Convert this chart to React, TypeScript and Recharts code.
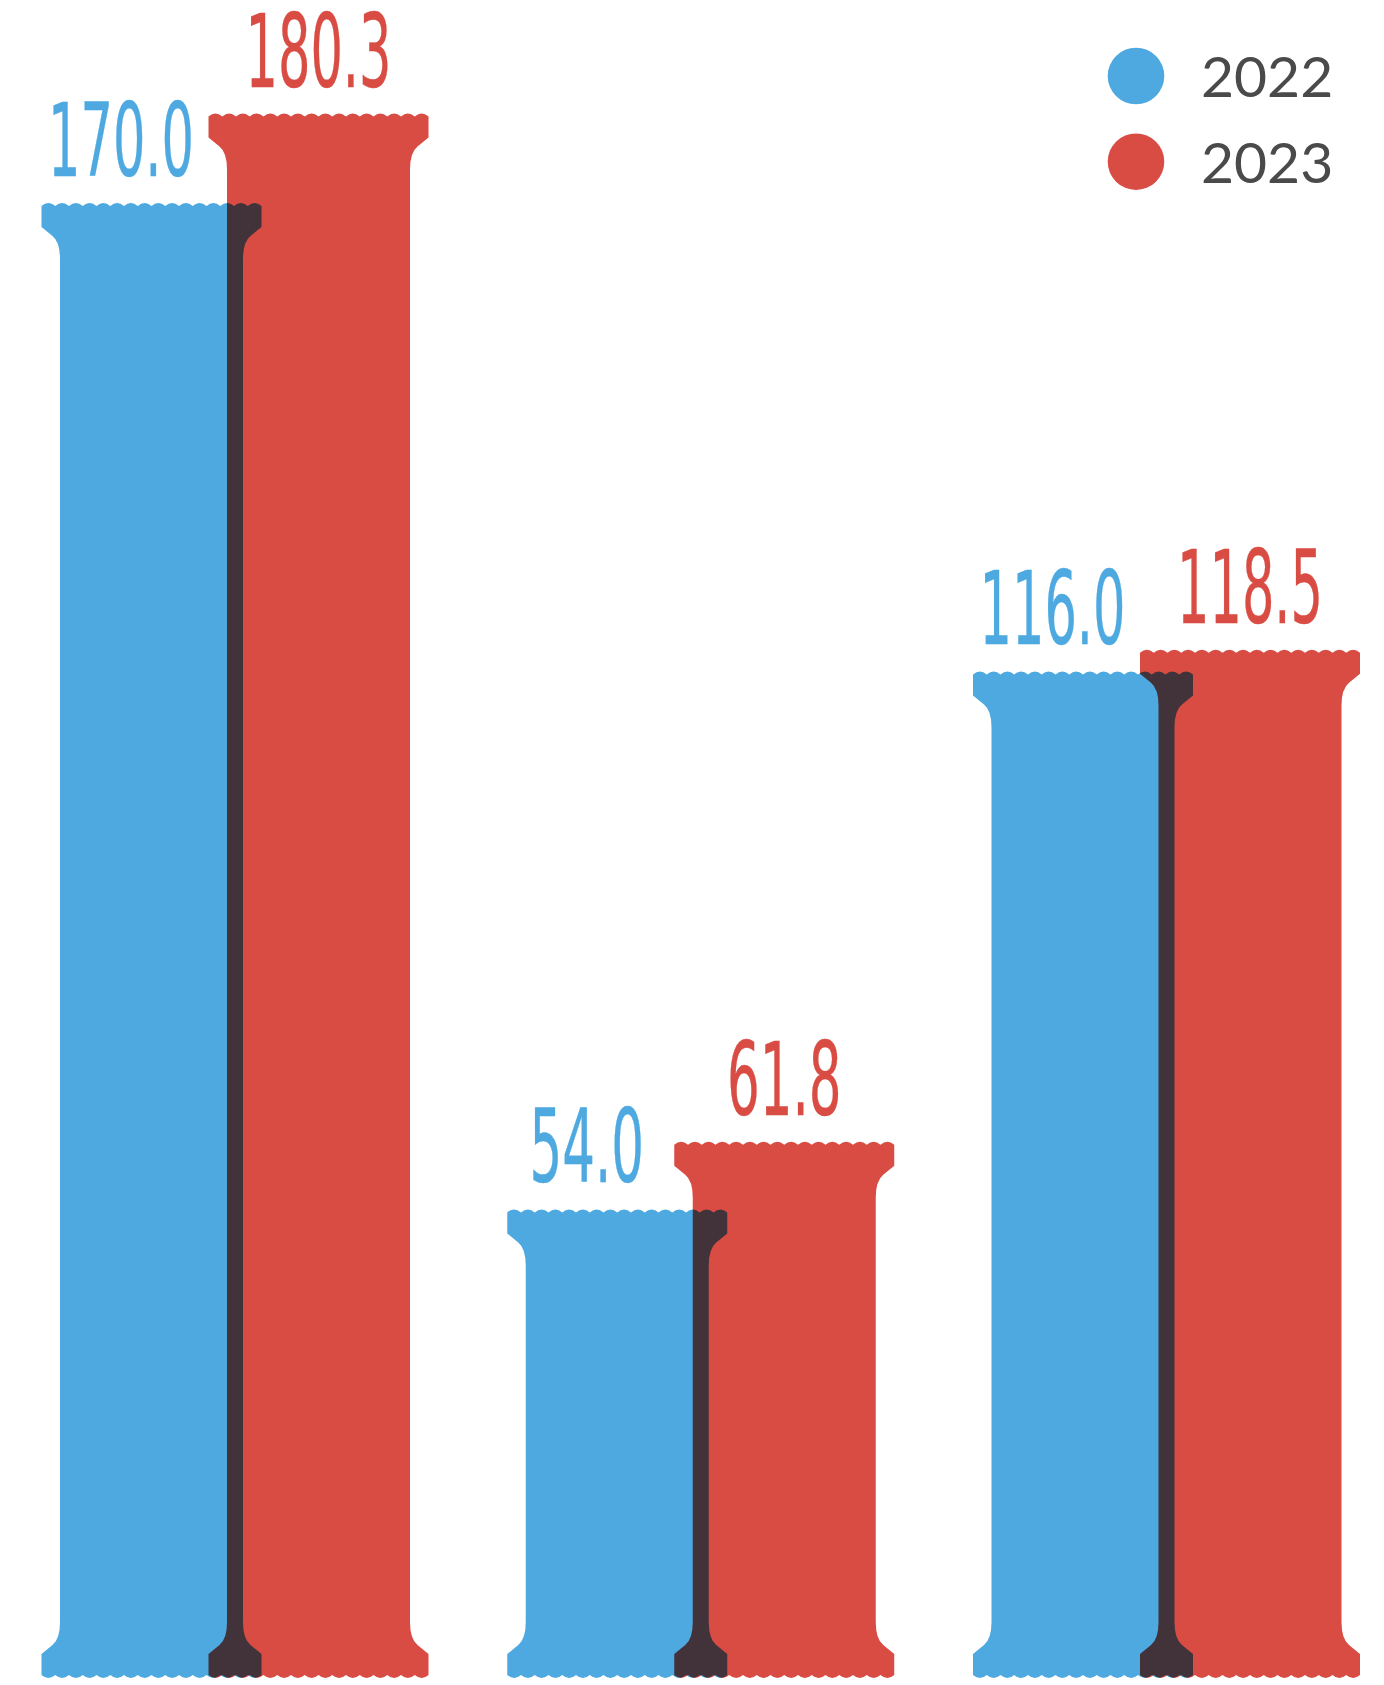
import React from 'react';
import { BarChart, Bar, XAxis, YAxis, Legend, LabelList } from 'recharts';

const categories = ['Group A', 'Group B', 'Group C'];
const values2022 = [170.0, 54.0, 116.0];
const values2023 = [180.3, 61.8, 118.5];
const seriesNames = ['2022', '2023'];
const seriesColors = ['#4DA9E0', '#D94C43'];

const data = categories.map((c, i) => ({
  name: c,
  v2022: values2022[i],
  v2023: values2023[i],
}));

const OVERLAP = 53;
const BAR_SIZE = 220;

function pillarPath(x: number, y: number, w: number, h: number) {
  const A = 3;
  const n = Math.max(1, Math.round(w / 13.5));
  const p = w / n;
  const inset = 18.5;
  const b = y + h;
  let d = `M ${x} ${y + A}`;
  for (let i = 0; i < n; i++) {
    d += ` Q ${x + p * (i + 0.5)} ${y - A} ${x + p * (i + 1)} ${y + A}`;
  }
  const r = x + w;
  d += ` L ${r} ${y + 24} L ${r - 11} ${y + 33} Q ${r - inset} ${y + 39} ${r - inset} ${y + 56}`;
  d += ` L ${r - inset} ${b - 56} Q ${r - inset} ${b - 39} ${r - 11} ${b - 33} L ${r} ${b - 24} L ${r} ${b - A}`;
  for (let i = 0; i < n; i++) {
    d += ` Q ${r - p * (i + 0.5)} ${b + A} ${r - p * (i + 1)} ${b - A}`;
  }
  d += ` L ${x} ${b - 24} L ${x + 11} ${b - 33} Q ${x + inset} ${b - 39} ${x + inset} ${b - 56}`;
  d += ` L ${x + inset} ${y + 56} Q ${x + inset} ${y + 39} ${x + 11} ${y + 33} L ${x} ${y + 24} Z`;
  return d;
}

const PillarShape = (props: any) => {
  const { x, y, width, height, fill } = props;
  if (width == null || height == null || height <= 0) return null;
  return (
    <path
      d={pillarPath(x, y, width, height)}
      fill={fill}
      style={{ mixBlendMode: 'multiply' }}
    />
  );
};

const makeLabel = (color: string, shift: number) => (props: any) => {
  const { x, y, width, value } = props;
  const s = Number(value).toFixed(1);
  const digits = s.replace('.', '').length;
  const len = digits * 31.5 + 20;
  const cx = x + (width - shift) / 2;
  return (
    <text
      x={cx}
      y={y - 27}
      textAnchor="middle"
      fill={color}
      stroke={color}
      strokeWidth={0.4}
      fontSize={101}
      fontFamily='"DejaVu Sans Condensed", "DejaVu Sans", sans-serif'
      textLength={len}
      lengthAdjust="spacingAndGlyphs"
    >
      {s}
    </text>
  );
};

const renderLegend = (props: any) => {
  const payload = props.payload || [];
  return (
    <svg width={304} height={200}>
      {payload.map((entry: any, i: number) => (
        <g key={i}>
          <circle cx={56} cy={46 + i * 85.7} r={28.3} fill={entry.color} />
          <text
            x={121}
            y={66.7 + i * 86.6}
            fontSize={57}
            fontFamily="Lato, 'Open Sans', sans-serif"
            fill="#4a4a4a"
          >
            {entry.value}
          </text>
        </g>
      ))}
    </svg>
  );
};

export default function App() {
  return (
    <div
      style={{
        position: 'absolute',
        left: 0,
        top: 0,
        width: 1384,
        height: 1685,
        overflow: 'hidden',
        background: '#ffffff',
      }}
    >
      <BarChart
        width={1420}
        height={1685}
        data={data}
        margin={{ top: 12, right: 20.25, left: 2.5, bottom: 7 }}
        barSize={BAR_SIZE}
        barGap={-OVERLAP}
      >
        <XAxis dataKey="name" hide />
        <YAxis hide domain={[0, 192]} />
        <Legend
          layout="vertical"
          align="center"
          verticalAlign="middle"
          content={renderLegend}
          wrapperStyle={{ left: 1080, top: 30, right: 'auto', bottom: 'auto', width: 304, height: 200 }}
        />
        <Bar
          dataKey="v2022"
          name={seriesNames[0]}
          fill={seriesColors[0]}
          shape={PillarShape}
          isAnimationActive={false}
        >
          <LabelList dataKey="v2022" content={makeLabel(seriesColors[0], OVERLAP + 8)} />
        </Bar>
        <Bar
          dataKey="v2023"
          name={seriesNames[1]}
          fill={seriesColors[1]}
          shape={PillarShape}
          isAnimationActive={false}
        >
          <LabelList dataKey="v2023" content={makeLabel(seriesColors[1], 0)} />
        </Bar>
      </BarChart>
    </div>
  );
}
